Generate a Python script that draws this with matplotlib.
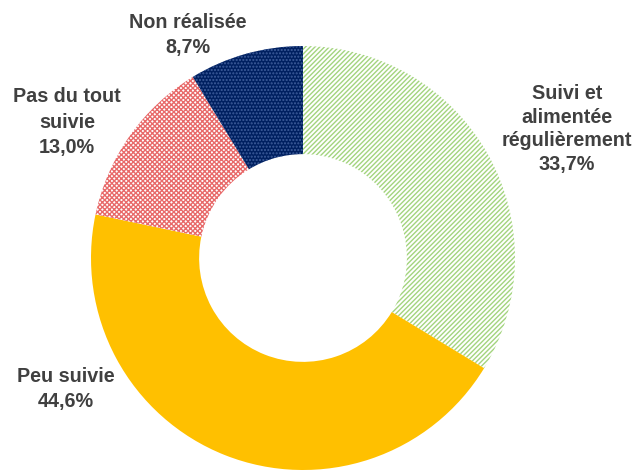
import matplotlib.pyplot as plt

plt.rcParams['font.family'] = ['Liberation Sans', 'DejaVu Sans']
plt.rcParams['hatch.linewidth'] = 1.0

labels = ["Suivi et\nalimentée\nrégulièrement", "Peu suivie", "Pas du tout\nsuivie", "Non réalisée"]
values = [33.7, 44.6, 13.0, 8.7]
face_colors = ["white", "#FFC000", "white", "#002060"]
hatch_colors = ["#A3D47E", "#FFC000", "#E86A6A", "#3F5E9C"]
hatches = ["///////", None, "xxxxxxx", "....."]

# label anchor points (pixel coords, y from top)
label_pos = [(567, 129), (66, 389), (67, 122), (188, 35)]

W, H = 637, 471
fig = plt.figure(figsize=(W / 100, H / 100), dpi=100)
ax = fig.add_axes([0, 0, 1, 1])

cx, cy, R = 303, H - 258, 212
wedges, _ = ax.pie(values, startangle=90, counterclock=False, radius=R,
                   center=(cx, cy), wedgeprops=dict(width=R * 0.51, linewidth=0))
for w, fc, hc, h in zip(wedges, face_colors, hatch_colors, hatches):
    w.set_facecolor(fc)
    w.set_edgecolor(hc)
    if h:
        w.set_hatch(h)
    w.set_linewidth(0)

ax.set_xlim(0, W)
ax.set_ylim(0, H)
ax.set_aspect('equal')
ax.axis('off')

for i, (lab, v, (x, y)) in enumerate(zip(labels, values, label_pos)):
    txt = lab + "\n" + ("%.1f%%" % v).replace(".", ",")
    ls = 1.3 if i == 0 else 1.42
    ax.text(x, H - y, txt, ha='center', va='center', fontsize=14.2,
            fontweight='bold', color='#404040', linespacing=ls)

fig.savefig('out.png', dpi=100)
